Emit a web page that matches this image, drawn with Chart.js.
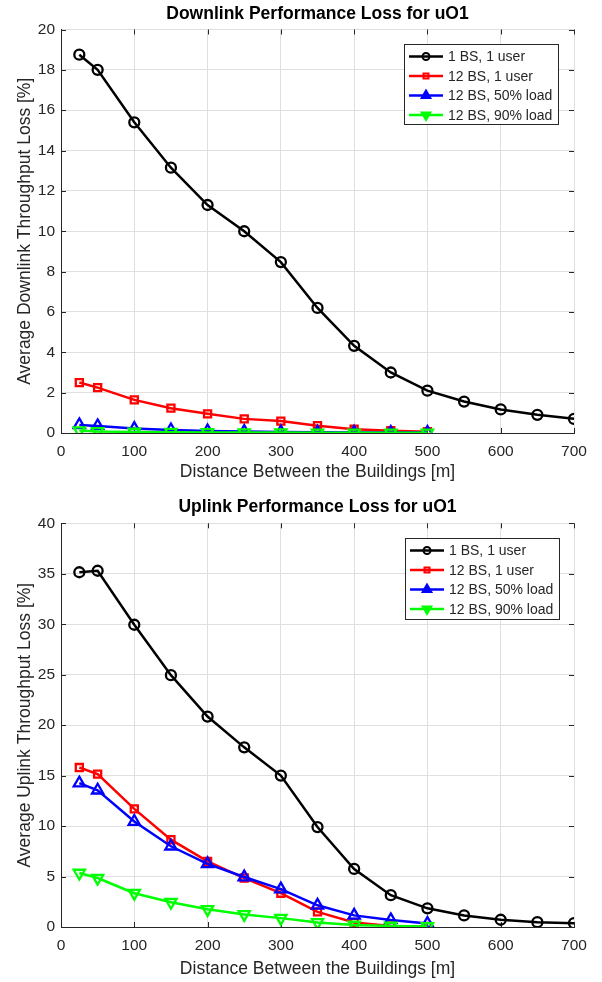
<!DOCTYPE html>
<html>
<head>
<meta charset="utf-8">
<script src="https://cdn.jsdelivr.net/npm/chart.js@4.4.0/dist/chart.umd.min.js"></script>
<style>
  body { margin: 0; background: #fff; }
  .box { position: absolute; left: 0; width: 602px; }
</style>
</head>
<body>
<div class="box" style="top:0;height:491px"><canvas id="graficoDownlink"></canvas></div>
<div class="box" style="top:491px;height:491px"><canvas id="graficoUplink"></canvas></div>
<script>
// distancias
const distLargas = [25, 50, 100, 150, 200, 250, 300, 350, 400, 450, 500, 550, 600, 650, 700];
const distCortas = [25, 50, 100, 150, 200, 250, 300, 350, 400, 450, 500];

const nombresSeries = ['1 BS, 1 user', '12 BS, 1 user', '12 BS, 50% load', '12 BS, 90% load'];
const ticksX = [0, 100, 200, 300, 400, 500, 600, 700];
const ticksDown = [0, 2, 4, 6, 8, 10, 12, 14, 16, 18, 20];
const ticksUp = [0, 5, 10, 15, 20, 25, 30, 35, 40];

// Downlink
const down1BS = [18.75, 18.0, 15.4, 13.15, 11.3, 10.0, 8.47, 6.2, 4.32, 3.0, 2.1, 1.56, 1.17, 0.9, 0.7];
const down12BS = [2.5, 2.25, 1.64, 1.23, 0.95, 0.7, 0.59, 0.36, 0.19, 0.11, 0.06];
const down50 = [0.4, 0.35, 0.22, 0.15, 0.1, 0.07, 0.05, 0.04, 0.03, 0.02, 0.02];
const down90 = [0.12, 0.08, 0.05, 0.04, 0.03, 0.02, 0.02, 0.01, 0.01, 0.01, 0.01];

// Uplink
const up1BS = [35.15, 35.3, 29.95, 24.95, 20.85, 17.8, 15.0, 9.9, 5.75, 3.15, 1.85, 1.15, 0.72, 0.48, 0.38];
const up12BS = [15.8, 15.15, 11.7, 8.65, 6.5, 4.85, 3.35, 1.5, 0.45, 0.1, 0.05];
const up50 = [14.25, 13.55, 10.45, 8.0, 6.25, 4.95, 3.75, 2.15, 1.15, 0.7, 0.35];
const up90 = [5.35, 4.85, 3.35, 2.45, 1.75, 1.25, 0.88, 0.45, 0.2, 0.1, 0.05];

const colores = ['#000000', '#ff0000', '#0000ff', '#00ff00'];
const marcadores = ['circle', 'rect', 'triangle', 'triangle'];
const rotaciones = [0, 0, 0, 180];
const radios = [5, 5, 6.5, 6.5];
const radiosLeyenda = [3.5, 2.5, 5, 5];
const fuente = "'Liberation Sans', Arial, sans-serif";
const gris = '#262626';

function puntos(xs, ys) {
	return xs.map((x, i) => ({ x: x, y: ys[i] }));
}

function dibujarMarcador(ctx, tipo, rot, r, x, y) {
	ctx.beginPath();
	if (tipo === 'circle') {
		ctx.arc(x, y, r, 0, Math.PI * 2);
		ctx.stroke();
	} else if (tipo === 'rect') {
		ctx.rect(x - r, y - r, r * 2, r * 2);
		ctx.stroke();
	} else {
		const s = rot ? -1 : 1;
		ctx.moveTo(x, y - s * r);
		ctx.lineTo(x + r * 0.87, y + s * r * 0.5);
		ctx.lineTo(x - r * 0.87, y + s * r * 0.5);
		ctx.closePath();
		ctx.fill();
		ctx.stroke();
	}
}

// titulo, leyenda dentro del area y marcas de ejes hacia adentro
const pluginLeyenda = {
	id: 'leyendaInterna',
	beforeDatasetsDraw(chart) {
		const { ctx, chartArea: a, scales } = chart;
		ctx.save();
		ctx.strokeStyle = gris;
		ctx.lineWidth = 1;
		ctx.beginPath();
		scales.x.ticks.forEach(t => {
			const px = Math.round(scales.x.getPixelForValue(t.value)) + 0.5;
			ctx.moveTo(px, a.bottom); ctx.lineTo(px, a.bottom - 5);
			ctx.moveTo(px, a.top); ctx.lineTo(px, a.top + 5);
		});
		scales.y.ticks.forEach(t => {
			const py = Math.round(scales.y.getPixelForValue(t.value)) + 0.5;
			ctx.moveTo(a.left, py); ctx.lineTo(a.left + 5, py);
			ctx.moveTo(a.right, py); ctx.lineTo(a.right - 5, py);
		});
		ctx.stroke();
		ctx.restore();
	},
	afterDraw(chart, args, opts) {
		const { ctx, chartArea: a } = chart;
		const b = opts.caja;
		ctx.save();
		ctx.fillStyle = '#000';
		ctx.font = 'bold 17.5px ' + fuente;
		ctx.textAlign = 'center';
		ctx.textBaseline = 'middle';
		ctx.fillText(opts.titulo, (a.left + a.right) / 2, opts.tituloC);

		ctx.textAlign = 'left';
		ctx.fillStyle = '#fff';
		ctx.fillRect(b.x, b.y, b.w, b.h);
		ctx.strokeStyle = gris;
		ctx.lineWidth = 1;
		ctx.strokeRect(b.x + 0.5, b.y + 0.5, b.w, b.h);
		ctx.font = '14px ' + fuente;
		nombresSeries.forEach((n, i) => {
			const y = b.y + 12.5 + i * 19.5;
			ctx.strokeStyle = colores[i];
			ctx.fillStyle = colores[i];
			ctx.lineWidth = 2.5;
			ctx.beginPath();
			ctx.moveTo(b.x + 5, y); ctx.lineTo(b.x + 39, y);
			ctx.stroke();
			ctx.lineWidth = 2;
			dibujarMarcador(ctx, marcadores[i], rotaciones[i], radiosLeyenda[i], b.x + 22, y);
			ctx.fillStyle = gris;
			ctx.fillText(n, b.x + 44, y + 1);
		});
		ctx.restore();
	}
};

function crearGrafico(id, titulo, tituloY, series, yMax, geo) {
	const datasets = series.map((s, i) => ({
		label: nombresSeries[i],
		data: puntos(s.length > 11 ? distLargas : distCortas, s),
		borderColor: colores[i],
		backgroundColor: 'rgba(0,0,0,0)',
		borderWidth: 2.5,
		pointStyle: marcadores[i],
		pointRotation: rotaciones[i],
		pointRadius: radios[i],
		pointBorderWidth: 2.3,
		pointBorderColor: colores[i],
		pointBackgroundColor: 'rgba(0,0,0,0)',
		order: 3 - i,
		tension: 0
	}));

	new Chart(document.getElementById(id), {
		type: 'line',
		data: { datasets: datasets },
		plugins: [pluginLeyenda],
		options: {
			responsive: true,
			maintainAspectRatio: false,
			animation: false,
			layout: { padding: { left: 0, right: 28, top: geo.top, bottom: 0 } },
			plugins: {
				legend: { display: false },
				tooltip: { enabled: false },
				title: { display: false },
				leyendaInterna: { caja: geo.caja, titulo: titulo, tituloC: geo.tituloC }
			},
			scales: {
				x: {
					type: 'linear',
					min: 0, max: 700,
					afterFit: s => { s.height = geo.alto - geo.bottom; },
					afterBuildTicks: s => { s.ticks = ticksX.map(v => ({ value: v })); },
					ticks: { color: gris, padding: 9, font: { family: fuente, size: 15.5 } },
					grid: { color: '#dfdfdf', drawTicks: false },
					border: { color: gris, width: 1 },
					title: {
						display: true,
						text: 'Distance Between the Buildings [m]',
						color: gris,
						font: { family: fuente, size: 17.5, lineHeight: 1.2 },
						padding: { top: 0, bottom: geo.alto - geo.xTituloC - 10.5 }
					}
				},
				y: {
					min: 0, max: yMax,
					afterFit: s => { s.width = 61; },
					afterBuildTicks: s => { s.ticks = geo.ticksY.map(v => ({ value: v })); },
					ticks: { color: gris, padding: 6, font: { family: fuente, size: 15.5 } },
					grid: { color: '#dfdfdf', drawTicks: false },
					border: { color: gris, width: 1 },
					title: {
						display: true,
						text: tituloY,
						color: gris,
						font: { family: fuente, size: 17.5, lineHeight: 1.2 },
						padding: { top: 15, bottom: 0 }
					}
				}
			}
		}
	});
}

crearGrafico('graficoDownlink', 'Downlink Performance Loss for uO1', 'Average Downlink Throughput Loss [%]',
	[down1BS, down12BS, down50, down90], 20,
	{ alto: 491, tituloC: 14.5, top: 29.5, bottom: 433, xTituloC: 472, ticksY: ticksDown,
	  caja: { x: 404, y: 44, w: 154, h: 80 } });

crearGrafico('graficoUplink', 'Uplink Performance Loss for uO1', 'Average Uplink Throughput Loss [%]',
	[up1BS, up12BS, up50, up90], 40,
	{ alto: 491, tituloC: 16, top: 32.3, bottom: 436, xTituloC: 478, ticksY: ticksUp,
	  caja: { x: 405, y: 47, w: 154, h: 81 } });
</script>
</body>
</html>
